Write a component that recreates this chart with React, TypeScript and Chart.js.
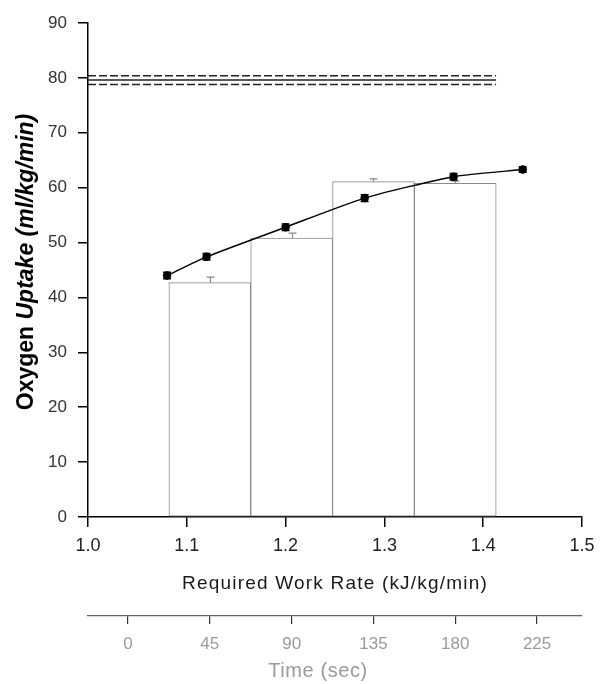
import React, { useEffect, useRef } from 'react';
import { Chart, registerables } from 'chart.js';

Chart.register(...registerables);

// Stage bars (time axis, seconds) – centre of each 45 s stage
const stageTimes = [45, 90, 135, 180];
const stageUptake = [42.7, 50.8, 61.1, 60.8];
const stageError = [1.0, 0.9, 0.5, 0.4];

// Oxygen uptake vs required work rate
const workRates = [1.08, 1.12, 1.2, 1.28, 1.37, 1.44];
const uptakes = [44.0, 47.4, 52.8, 58.1, 62.0, 63.3];
const uptakeErrors = [0.6, 0.6, 0.6, 0.6, 0.6, 0.5];

// VO2max reference lines (mean and band)
const vo2maxMean = 79.6;
const vo2maxUpper = 80.4;
const vo2maxLower = 78.8;
const refLineSpan = [1.0, 1.413];

// Axis ticks / ranges
const workRateTicks = [1.0, 1.1, 1.2, 1.3, 1.4, 1.5];
const workRateRange = [1.0, 1.5];
const uptakeRange = [0, 90];
const uptakeStep = 10;
const timeTicks = [0, 45, 90, 135, 180, 225];
const timeAxisRange = [-22, 249.7];

const yTitleRegular = 'Oxygen ';
const yTitleItalic = 'Uptake (ml/kg/min)';
const xTitle = 'Required Work Rate (kJ/kg/min)';
const timeTitle = 'Time (sec)';

const FONT = '"Liberation Sans", Arial, Helvetica, sans-serif';

const errorBarPlugin = {
  id: 'errorBars',
  afterDatasetsDraw(chart: any) {
    const { ctx, scales } = chart;
    const x = scales.x;
    const x2 = scales.x2;
    const y = scales.y;
    ctx.save();
    // bar error bars (upward only)
    ctx.strokeStyle = '#888';
    ctx.lineWidth = 1.2;
    stageTimes.forEach((t, i) => {
      const px = Math.round(x2.getPixelForValue(t)) + 0.5;
      const top = y.getPixelForValue(stageUptake[i]);
      const end = y.getPixelForValue(stageUptake[i] + stageError[i]);
      ctx.beginPath();
      ctx.moveTo(px, top);
      ctx.lineTo(px, end);
      ctx.moveTo(px - 4, end);
      ctx.lineTo(px + 4, end);
      ctx.stroke();
    });
    // point error bars
    ctx.strokeStyle = '#000';
    ctx.lineWidth = 1.5;
    workRates.forEach((w, i) => {
      const px = x.getPixelForValue(w);
      const lo = y.getPixelForValue(uptakes[i] - uptakeErrors[i]);
      const hi = y.getPixelForValue(uptakes[i] + uptakeErrors[i]);
      ctx.beginPath();
      ctx.moveTo(px, lo);
      ctx.lineTo(px, hi);
      ctx.moveTo(px - 4, lo);
      ctx.lineTo(px + 4, lo);
      ctx.moveTo(px - 4, hi);
      ctx.lineTo(px + 4, hi);
      ctx.stroke();
    });
    ctx.restore();
  },
};

const titlePlugin = {
  id: 'axisTitles',
  afterDraw(chart: any) {
    const { ctx, chartArea } = chart;
    const midX = (chartArea.left + chartArea.right) / 2;
    const midY = (chartArea.top + chartArea.bottom) / 2;
    ctx.save();
    // Y title (mixed upright / italic)
    ctx.translate(chartArea.left - 55, midY - 8);
    ctx.rotate(-Math.PI / 2);
    ctx.fillStyle = '#000';
    ctx.textBaseline = 'alphabetic';
    ctx.textAlign = 'left';
    const regFont = `bold 23px ${FONT}`;
    const itFont = `italic bold 23px ${FONT}`;
    ctx.font = regFont;
    const w1 = ctx.measureText(yTitleRegular).width;
    ctx.font = itFont;
    const w2 = ctx.measureText(yTitleItalic).width;
    const start = -(w1 + w2) / 2;
    ctx.font = regFont;
    ctx.fillText(yTitleRegular, start, 0);
    ctx.font = itFont;
    ctx.fillText(yTitleItalic, start + w1, 0);
    ctx.restore();

    ctx.save();
    ctx.textAlign = 'center';
    ctx.textBaseline = 'alphabetic';
    try { (ctx as any).letterSpacing = '1.2px'; } catch (e) {}
    ctx.font = `19px ${FONT}`;
    ctx.fillStyle = '#1a1a1a';
    ctx.fillText(xTitle, midX, chartArea.bottom + 71.5);
    try { (ctx as any).letterSpacing = '0.6px'; } catch (e) {}
    ctx.font = `20px ${FONT}`;
    ctx.fillStyle = '#9a9a9a';
    ctx.fillText(timeTitle, midX - 17, chartArea.bottom + 160);
    ctx.restore();
  },
};

export default function App() {
  const canvasRef = useRef<HTMLCanvasElement | null>(null);

  useEffect(() => {
    if (!canvasRef.current) return;
    const refLine = (v: number, dashed: boolean) => ({
      type: 'line' as const,
      xAxisID: 'x',
      yAxisID: 'y',
      data: [
        { x: refLineSpan[0], y: v },
        { x: refLineSpan[1], y: v },
      ],
      borderColor: '#222',
      borderWidth: 1.5,
      borderDash: dashed ? [8, 3] : [],
      pointRadius: 0,
      fill: false,
      order: 2,
    });

    const chart = new Chart(canvasRef.current, {
      type: 'bar',
      data: {
        datasets: [
          {
            type: 'line',
            label: 'VO2',
            xAxisID: 'x',
            yAxisID: 'y',
            data: workRates.map((w, i) => ({ x: w, y: uptakes[i] })),
            borderColor: '#000',
            borderWidth: 1.5,
            pointRadius: 3.5,
            pointBackgroundColor: '#000',
            pointBorderColor: '#000',
            tension: 0.2,
            fill: false,
            order: 1,
          } as any,
          refLine(vo2maxUpper, true),
          refLine(vo2maxMean, false),
          refLine(vo2maxLower, true),
          {
            type: 'bar',
            label: 'Stage',
            xAxisID: 'x2',
            yAxisID: 'y',
            data: stageTimes.map((t, i) => ({ x: t, y: stageUptake[i] })),
            backgroundColor: '#ffffff',
            borderColor: '#888',
            borderWidth: 1,
            borderSkipped: false,
            barPercentage: 1,
            categoryPercentage: 1,
            grouped: false,
            order: 5,
          } as any,
        ],
      },
      options: {
        responsive: false,
        animation: false,
        layout: { padding: { top: 23, right: 21, bottom: 0, left: 0 } },
        plugins: {
          legend: { display: false },
          tooltip: { enabled: false },
        },
        scales: {
          x: {
            type: 'linear',
            position: 'bottom',
            weight: 0,
            min: workRateRange[0],
            max: workRateRange[1],
            offset: false,
            grid: { display: true, drawOnChartArea: false, drawTicks: true, tickLength: 10, color: '#000', lineWidth: 1.5, offset: false },
            border: { display: true, color: '#000', width: 1.5 },
            ticks: {
              font: { family: FONT, size: 18 },
              color: '#222',
              padding: 8,
              maxRotation: 0,
              autoSkip: false,
              callback: (v: any) => Number(v).toFixed(1),
            },
            afterBuildTicks: (s: any) => {
              s.ticks = workRateTicks.map((v) => ({ value: v }));
            },
            afterFit: (s: any) => {
              s.height = 99;
            },
          },
          x2: {
            type: 'linear',
            position: 'bottom',
            weight: 1,
            min: timeAxisRange[0],
            max: timeAxisRange[1],
            offset: false,
            grid: { display: true, drawOnChartArea: false, drawTicks: true, tickLength: 8, color: '#333', lineWidth: 1.2, offset: false },
            border: { display: true, color: '#666', width: 1.2 },
            ticks: {
              font: { family: FONT, size: 17 },
              color: '#9a9a9a',
              padding: 10,
              maxRotation: 0,
              autoSkip: false,
            },
            afterBuildTicks: (s: any) => {
              s.ticks = timeTicks.map((v) => ({ value: v }));
            },
            afterFit: (s: any) => {
              s.height = 68;
            },
          },
          y: {
            type: 'linear',
            position: 'left',
            min: uptakeRange[0],
            max: uptakeRange[1],
            grid: { display: true, drawOnChartArea: false, drawTicks: true, tickLength: 10, color: '#000', lineWidth: 1.5 },
            border: { display: true, color: '#000', width: 1.5 },
            ticks: {
              stepSize: uptakeStep,
              font: { family: FONT, size: 17 },
              color: '#333',
              padding: 11,
            },
            afterFit: (s: any) => {
              s.width = 88;
            },
          },
        },
      } as any,
      plugins: [errorBarPlugin, titlePlugin],
    });
    return () => chart.destroy();
  }, []);

  return (
    <div style={{ position: 'fixed', left: 0, top: 0, width: 603, height: 684, background: '#fff' }}>
      <canvas ref={canvasRef} width={603} height={684} style={{ display: 'block' }} />
    </div>
  );
}
